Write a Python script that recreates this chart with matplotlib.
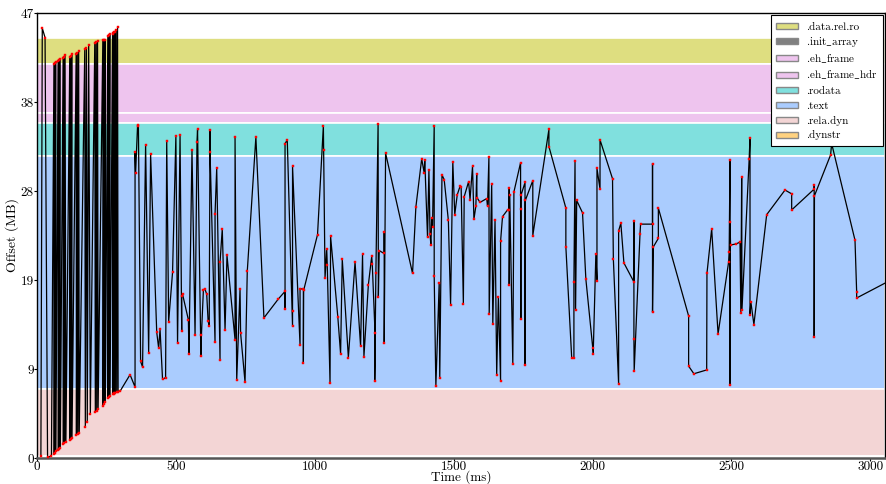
import matplotlib
matplotlib.use("Agg")
import matplotlib.pyplot as plt
import matplotlib.patches as mpatches
from matplotlib.legend_handler import HandlerPatch
import numpy as np

plt.rcParams["font.family"] = ["cmr10", "DejaVu Serif"]
plt.rcParams["axes.formatter.use_mathtext"] = True
plt.rcParams["mathtext.fontset"] = "cm"

# Section address ranges (MB) and colours
section_names = [".data.rel.ro", ".init_array", ".eh_frame", ".eh_frame_hdr",
                 ".rodata", ".text", ".rela.dyn", ".dynstr"]
section_lo = [41.6, 41.58, 36.4, 35.4, 31.9, 7.3, 0.25, 0.1]
section_hi = [44.35, 41.6, 41.6, 36.4, 35.4, 31.9, 7.3, 0.2]
section_colors = ["#dede80", "#808080", "#eec4ee", "#eec4ee",
                  "#80e0de", "#aaccfe", "#f3d5d5", "#ffd280"]

# Page access trace: time (ms) and file offset (MB)
startup_time = [14, 19, 29, 38, 52,
                61, 62, 64, 65, 67, 68,
                76, 77, 79, 80, 82, 84,
                94, 95, 97, 99, 101, 104,
                118, 119, 121, 123, 125, 126,
                141, 142, 145, 147, 150, 152,
                172, 174, 178, 181, 186, 192,
                208, 210, 213, 215, 218, 220,
                237, 238, 241, 242, 245, 246,
                255, 256, 258, 259, 262, 263,
                272, 273, 275, 276, 277, 278,
                280, 282, 285, 287, 290, 292,
                300, 335, 353]
startup_offset = [0.2, 45.4, 44.4, 0.1, 0.2,
                  41.6, 0.4, 41.7, 0.5, 41.8, 0.7,
                  41.9, 0.8, 42.0, 0.9, 42.1, 1.1,
                  42.3, 1.5, 42.4, 1.6, 42.6, 1.7,
                  42.4, 1.9, 42.5, 2.0, 42.7, 2.1,
                  42.7, 2.4, 42.8, 2.5, 43.0, 2.6,
                  43.2, 3.3, 43.3, 3.8, 43.6, 4.6,
                  43.8, 4.9, 43.9, 5.0, 44.0, 5.2,
                  44.1, 5.5, 44.1, 5.7, 44.2, 5.9,
                  44.6, 6.3, 44.7, 6.4, 44.8, 6.6,
                  44.8, 6.8, 44.9, 6.8, 45.0, 6.9,
                  45.0, 6.9, 45.2, 7.0, 45.5, 7.0,
                  7.1, 8.8, 7.5]

main_time = [353, 355, 362, 365, 373, 380, 391, 402, 409, 431, 438, 443, 452, 463,
             467, 474, 488, 500, 506, 515, 521, 521, 524, 545, 547, 558, 569, 576,
             578, 590, 592, 599, 604, 611, 616, 620, 623, 623, 641, 641, 647, 659,
             659, 667, 677, 684, 713, 713, 719, 731, 733, 749, 757, 788, 817, 869,
             893, 893, 893, 901, 920, 920, 920, 947, 947, 959, 959, 960, 1010, 1031,
             1032, 1037, 1043, 1045, 1055, 1057, 1083, 1093, 1099, 1121, 1145, 1165,
             1172, 1177, 1193, 1205, 1207, 1217, 1216, 1220, 1228, 1229, 1232, 1250,
             1250, 1250, 1255, 1352, 1364, 1385, 1394, 1396, 1406, 1411, 1415, 1418,
             1421, 1424, 1430, 1430, 1436, 1448, 1450, 1458, 1466, 1481, 1489, 1497,
             1504, 1513, 1523, 1527, 1535, 1538, 1554, 1559, 1568, 1573, 1580, 1583,
             1584, 1595, 1619, 1622, 1627, 1628, 1637, 1641, 1649, 1655, 1661, 1669,
             1669, 1676, 1694, 1699, 1700, 1700, 1702, 1713, 1717, 1741, 1741, 1742,
             1743, 1757, 1757, 1758, 1785, 1785, 1843, 1843, 1904, 1904, 1925, 1933,
             1933, 1937, 1939, 1943, 1964, 1976, 2003, 2003, 2012, 2016, 2016, 2027,
             2027, 2072, 2075, 2094, 2094, 2102, 2113, 2149, 2149, 2149, 2150, 2171,
             2173, 2216, 2216, 2216, 2219, 2237, 2237, 2346, 2346, 2365, 2411, 2412,
             2429, 2452, 2490, 2492, 2495, 2495, 2495, 2497, 2516, 2531, 2534, 2537,
             2538, 2564, 2567, 2567, 2570, 2581, 2627, 2693, 2717, 2717, 2798, 2798,
             2798, 2799, 2857, 2861, 2945, 2951, 2951, 3120]
main_offset = [32.3, 30.1, 35.1, 35.2, 10.2, 9.6, 33.1, 11.1, 32.1, 13.3, 11.6, 13.6, 8.3, 8.5,
               33.5, 14.4, 19.6, 34.0, 12.1, 34.1, 13.4, 17.1, 17.3, 14.6, 11.0, 32.5, 13.0, 33.4,
               34.7, 10.8, 13.0, 17.7, 17.9, 17.3, 14.5, 13.9, 34.6, 32.3, 12.2, 25.8, 30.6, 10.3,
               20.7, 24.2, 13.5, 21.4, 12.5, 33.9, 8.2, 17.9, 13.2, 8.0, 19.7, 33.9, 14.8, 16.8,
               17.6, 15.7, 33.2, 33.6, 13.9, 15.5, 30.8, 11.9, 17.9, 17.8, 10.0, 17.7, 23.6, 35.1,
               32.5, 19.0, 22.1, 20.4, 7.9, 23.4, 14.9, 11.0, 21.0, 10.6, 20.7, 11.8,
               21.5, 10.7, 18.3, 21.3, 20.5, 13.2, 8.1, 19.5, 35.3, 17.0, 21.9, 21.6,
               23.9, 12.1, 32.2, 19.5, 26.5, 31.6, 30.1, 31.5, 23.3, 30.4, 23.7, 22.5,
               25.3, 24.4, 35.1, 19.2, 7.6, 18.5, 8.5, 29.9, 29.4, 25.1, 16.2, 31.3,
               25.7, 27.8, 28.7, 28.6, 16.3, 27.6, 29.2, 27.3, 30.8, 25.2, 26.6, 30.0,
               27.5, 27.0, 27.4, 26.6, 31.8, 15.2, 28.9, 14.2, 25.1, 8.8, 17.0, 8.1,
               22.9, 25.5, 26.2, 26.2, 28.5, 18.3, 27.8, 9.9, 28.1, 31.2, 26.3, 14.7,
               27.8, 29.1, 9.8, 27.2, 29.3, 23.5, 34.7, 32.9, 26.4, 22.3, 10.6, 10.6,
               18.6, 31.4, 15.6, 27.2, 25.9, 18.9, 11.0, 11.6, 21.5, 18.7, 30.6, 28.4,
               33.6, 29.5, 21.0, 7.8, 24.0, 24.8, 20.6, 18.6, 25.0, 12.6, 9.2, 23.7,
               24.7, 24.7, 31.1, 15.4, 22.3, 23.2, 26.4, 15.0, 9.7, 8.9, 9.3, 19.5,
               24.2, 13.1, 20.7, 21.8, 31.5, 7.7, 24.9, 22.5, 22.6, 22.8, 15.3, 29.7,
               15.6, 31.6, 33.8, 15.1, 16.5, 14.1, 25.7, 28.3, 27.9, 26.2, 28.4, 28.8,
               12.8, 27.7, 32.0, 33.2, 23.0, 17.5, 16.9, 19.5]

time_ms = startup_time + main_time
offset_mb = startup_offset + main_offset

x_max = 3053
y_max = 47.0
x_ticks = [0, 500, 1000, 1500, 2000, 2500, 3000]
y_ticks = np.linspace(0, y_max, 6)
y_tick_labels = ["0", "9", "19", "28", "38", "47"]

fig = plt.figure(figsize=(8.86, 4.84), dpi=100)
ax = fig.add_axes([37 / 886, 26 / 484, 848 / 886, 445 / 484])

# Section bands
for lo, hi, col in zip(section_lo, section_hi, section_colors):
    ax.axhspan(lo, hi, facecolor=col, edgecolor="white", linewidth=1.2, zorder=1)

# Access trace
ax.plot(time_ms, offset_mb, color="black", linewidth=0.9, marker="s",
        markersize=1.6, markerfacecolor="red", markeredgecolor="red",
        markeredgewidth=0.3, zorder=3)

ax.set_xlim(0, x_max)
ax.set_ylim(0, y_max)
ax.set_xticks(x_ticks)
ax.set_xticklabels([str(t) for t in x_ticks])
ax.set_yticks(y_ticks)
ax.set_yticklabels(y_tick_labels)
ax.tick_params(labelsize=9.5, length=2, width=0.8, pad=0.3)
ax.set_xlabel("Time (ms)", fontsize=9.5)
ax.xaxis.label.set_verticalalignment("bottom")
ax.xaxis.set_label_coords(0.5, -25.5 / 445)
ax.set_ylabel("Offset (MB)", fontsize=10, labelpad=1)
for side in ["left", "bottom", "top", "right"]:
    ax.spines[side].set_linewidth(1.0)
ax.spines["bottom"].set_color("#555555")
ax.spines["bottom"].set_linewidth(1.8)


def legend_label(name):
    # cmr10 has no low line glyph, so the underscore comes from mathtext
    return name.replace("_", "$\\_$")


def short_swatch(legend, orig_handle, xdescent, ydescent, width, height, fontsize):
    h = height * 0.5
    return mpatches.Rectangle((-xdescent, -ydescent + (height - h) / 2), width, h)


handles = [mpatches.Patch(facecolor=c, edgecolor="#888888", label=legend_label(n))
           for n, c in zip(section_names, section_colors)]
leg = ax.legend(handles=handles, loc="upper right", bbox_to_anchor=(1.0, 1.0),
                borderaxespad=0.2, fontsize=8, fancybox=False, framealpha=1.0,
                edgecolor="black", handlelength=2.0, handleheight=1.3,
                labelspacing=0.25, borderpad=0.45, handletextpad=0.7,
                handler_map={mpatches.Patch: HandlerPatch(patch_func=short_swatch)})
leg.get_frame().set_linewidth(0.8)
leg.set_zorder(5)

fig.savefig("out.png", dpi=100)
